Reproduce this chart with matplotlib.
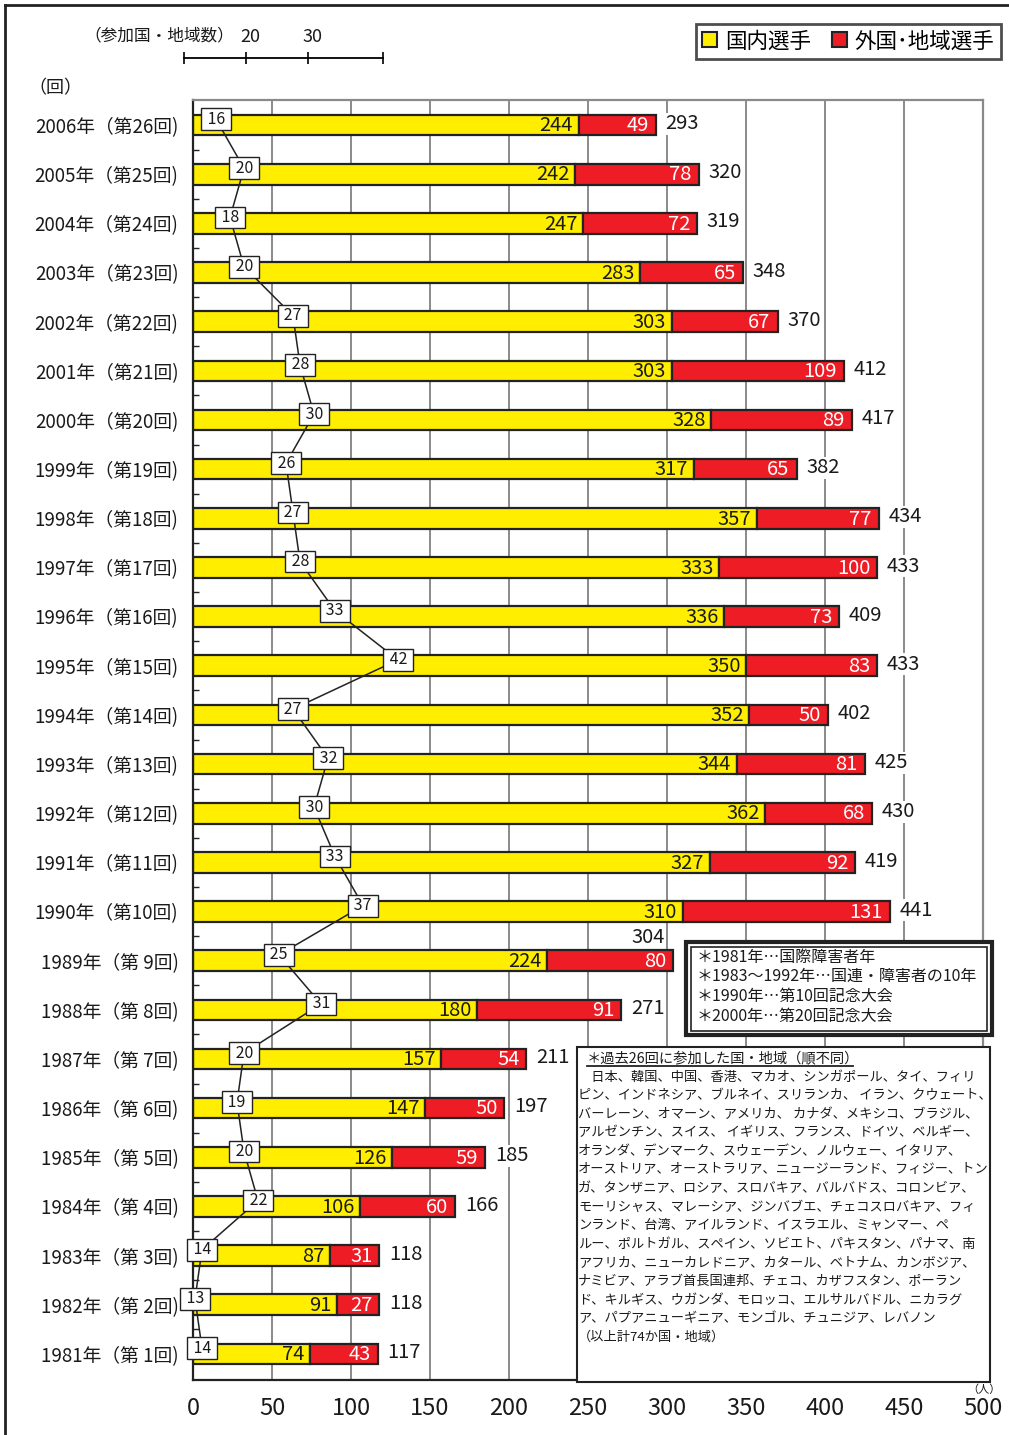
import numpy as np
import matplotlib
matplotlib.use('Agg')
import matplotlib.pyplot as plt
import matplotlib.transforms as mtransforms
from matplotlib.patches import Patch, Rectangle
from matplotlib.lines import Line2D

NUM_FONT = ['Liberation Sans Narrow', 'Noto Sans CJK JP', 'DejaVu Sans']
CJK_FONT = ['Noto Sans CJK JP', 'DejaVu Sans']
plt.rcParams['font.family'] = NUM_FONT

# ---- data (1981 -> 2006) ----
years = list(range(1981, 2007))
editions = list(range(1, 27))
domestic = [74, 91, 87, 106, 126, 147, 157, 180, 224, 310, 327, 362, 344,
            352, 350, 336, 333, 357, 317, 328, 303, 303, 283, 247, 242, 244]
foreign = [43, 27, 31, 60, 59, 50, 54, 91, 80, 131, 92, 68, 81,
           50, 83, 73, 100, 77, 65, 89, 109, 67, 65, 72, 78, 49]
countries = [14, 13, 14, 22, 20, 19, 20, 31, 25, 37, 33, 30, 32,
             27, 42, 33, 28, 27, 26, 30, 28, 27, 20, 18, 20, 16]

notes = ['＊1981年…国際障害者年',
         '＊1983～1992年…国連・障害者の10年',
         '＊1990年…第10回記念大会',
         '＊2000年…第20回記念大会']
country_title = '＊過去26回に参加した国・地域（順不同）'
country_lines = [
    '　日本、韓国、中国、香港、マカオ、シンガポール、タイ、フィリ',
    'ピン、インドネシア、ブルネイ、スリランカ、 イラン、クウェート、',
    'バーレーン、オマーン、アメリカ、 カナダ、メキシコ、ブラジル、',
    'アルゼンチン、スイス、 イギリス、フランス、ドイツ、ベルギー、',
    'オランダ、デンマーク、スウェーデン、ノルウェー、イタリア、',
    'オーストリア、オーストラリア、ニュージーランド、フィジー、トン',
    'ガ、タンザニア、ロシア、スロバキア、バルバドス、コロンビア、',
    'モーリシャス、マレーシア、ジンバブエ、チェコスロバキア、フィ',
    'ンランド、台湾、アイルランド、イスラエル、ミャンマー、ペ',
    'ルー、ポルトガル、スペイン、ソビエト、パキスタン、パナマ、南',
    'アフリカ、ニューカレドニア、カタール、ベトナム、カンボジア、',
    'ナミビア、アラブ首長国連邦、チェコ、カザフスタン、ポーラン',
    'ド、キルギス、ウガンダ、モロッコ、エルサルバドル、ニカラグ',
    'ア、パプアニューギニア、モンゴル、チュニジア、レバノン',
    '（以上計74か国・地域）',
]

YELLOW = '#FFEE00'
RED = '#EE1C25'
EDGE = '#222222'
INK = '#1a1a1a'
W, H = 1009, 1435


def fx(px):
    return px / W


def fy(py):
    return 1 - py / H


fig = plt.figure(figsize=(W / 100, H / 100), dpi=100)
ax = fig.add_axes([fx(193), fy(1380), fx(983) - fx(193), (1380 - 100) / H])

y = np.arange(len(years))
totals = [d + f for d, f in zip(domestic, foreign)]

ax.barh(y, domestic, height=0.42, color=YELLOW, edgecolor=EDGE, lw=1.6, zorder=2)
ax.barh(y, foreign, left=domestic, height=0.42, color=RED, edgecolor=EDGE,
        lw=1.6, zorder=2)

for i in y:
    ax.annotate(str(domestic[i]), (domestic[i], i), xytext=(-4, -0.5),
                textcoords='offset points', ha='right', va='center',
                fontsize=14.5, color=INK, zorder=3)
    ax.annotate(str(foreign[i]), (totals[i], i), xytext=(-5, -0.5),
                textcoords='offset points', ha='right', va='center',
                fontsize=14.5, color='white', zorder=3)
    if years[i] == 1989:
        ax.annotate(str(totals[i]), (totals[i], i), xytext=(-18, 17),
                    textcoords='offset points', ha='center', va='center',
                    fontsize=14.5, color=INK, zorder=3,
                    bbox=dict(fc='white', ec='none', pad=0.5))
    else:
        ax.annotate(str(totals[i]), (totals[i], i), xytext=(7, 1),
                    textcoords='offset points', ha='left', va='center',
                    fontsize=14.5, color=INK, zorder=3,
                    bbox=dict(fc='white', ec='none', pad=0.5))

ax.set_xlim(0, 500)
ax.set_ylim(-0.53, 25.51)
ax.set_xticks(np.arange(0, 501, 50))
ax.tick_params(axis='x', length=0, pad=12, labelsize=17, labelcolor=INK)
ax.set_yticks(y)
ax.set_yticklabels([f'{yr}年（第{e:2d}回)' for yr, e in zip(years, editions)])
ax.tick_params(axis='y', which='major', length=0, pad=10.5, labelsize=13.5,
               labelcolor=INK)
ax.set_yticks(y[:-1] + 0.5, minor=True)
ax.tick_params(axis='y', which='minor', direction='in', length=4, width=1,
               color='#222222')
ax.set_axisbelow(True)
ax.xaxis.grid(True, color='#8a8a8a', lw=1.4)
for s in ['left', 'bottom']:
    ax.spines[s].set_color('#222222')
    ax.spines[s].set_linewidth(1.6)
for s in ['top', 'right']:
    ax.spines[s].set_color('#8a8a8a')
    ax.spines[s].set_linewidth(1.6)

# participating countries line (own scale)
ax2 = ax.twiny()
ax2.set_xlim((193 - 104) / 7, (983 - 104) / 7)
ax2.set_ylim(ax.get_ylim())
ax2.axis('off')
ax2.plot(countries, y + 0.12, color='#222222', lw=1.1, zorder=4, clip_on=False)
for i in y:
    ax2.text(countries[i], i + 0.12, f' {countries[i]} ', ha='center',
             va='center', fontsize=11.5, color=INK, zorder=5, clip_on=False,
             bbox=dict(boxstyle='square,pad=0.15', fc='white', ec='#222222',
                       lw=1))

# small scale for number of countries
axc = fig.add_axes([fx(184), fy(58), fx(383) - fx(184), 12 / H])
axc.set_xlim(10, 42)
axc.set_ylim(0, 1)
for s in ['left', 'right', 'top']:
    axc.spines[s].set_visible(False)
axc.spines['bottom'].set_linewidth(1.3)
axc.set_yticks([])
axc.set_xticks([10, 20, 30, 42])
axc.set_xticklabels(['', '20', '30', ''])
axc.tick_params(axis='x', direction='inout', length=8, width=1.2,
                bottom=True, top=False, labelbottom=False, labeltop=True,
                pad=-4, labelsize=13, labelcolor=INK)
shift = mtransforms.ScaledTranslation(4 / 100, 0, fig.dpi_scale_trans)
for lab in axc.get_xticklabels(which='major'):
    lab.set_transform(lab.get_transform() + shift)
axc.patch.set_alpha(0)
fig.text(fx(84), fy(36), '（参加国・地域数）', fontsize=12, ha='left',
         va='center', color=INK, family=CJK_FONT)
fig.text(fx(28), fy(88), '（回）', fontsize=13, ha='left', va='center',
         color=INK, family=CJK_FONT)
fig.text(fx(1001), fy(1390), '（人）', fontsize=8, ha='right', va='center',
         color=INK, family=CJK_FONT, zorder=8)

# legend
handles = [Patch(fc=YELLOW, ec=EDGE, lw=1.5, label='国内選手'),
           Patch(fc=RED, ec=EDGE, lw=1.5, label='外国･地域選手')]
leg = fig.legend(handles=handles, loc='upper right',
                 bbox_to_anchor=(fx(1001), fy(24)), ncol=2,
                 prop=dict(family=CJK_FONT, size=15.5),
                 frameon=True, fancybox=False, edgecolor='#222222',
                 handlelength=0.7, handleheight=0.7, handletextpad=0.35,
                 columnspacing=1.0, borderpad=0.3, borderaxespad=0)
leg.get_frame().set_linewidth(2)

# notes box (double border)
fig.add_artist(Rectangle((fx(686), fy(1035)), fx(992) - fx(686),
                         (1035 - 942) / H, transform=fig.transFigure,
                         fc='white', ec='#222222', lw=3, zorder=6))
fig.add_artist(Rectangle((fx(691), fy(1031)), fx(987) - fx(691),
                         (1031 - 947) / H, transform=fig.transFigure,
                         fc='none', ec='#222222', lw=1.2, zorder=6))
for k, line in enumerate(notes):
    fig.text(fx(697), fy(957 + 19.8 * k), line, fontsize=11.5, ha='left',
             va='center', color=INK, zorder=7)

# country list box
fig.add_artist(Rectangle((fx(577), fy(1382)), fx(990) - fx(577),
                         (1382 - 1047) / H, transform=fig.transFigure,
                         fc='white', ec='#222222', lw=1.5, zorder=6))
fig.text(fx(587), fy(1058), country_title, fontsize=10.3, ha='left',
         va='center', color=INK, zorder=7, family=CJK_FONT)
fig.add_artist(Line2D([fx(587), fx(853)], [fy(1066), fy(1066)],
                      transform=fig.transFigure, color='#222222', lw=1.3,
                      zorder=7))
for k, line in enumerate(country_lines):
    fig.text(fx(578), fy(1077 + 18.57 * k), line, fontsize=9.5, ha='left',
             va='center', color=INK, zorder=7, family=CJK_FONT)

# outer frame (top and left)
fig.add_artist(Line2D([fx(5), 1], [fy(5), fy(5)], transform=fig.transFigure,
                      color='#222222', lw=2))
fig.add_artist(Line2D([fx(5), fx(5)], [fy(5), 0], transform=fig.transFigure,
                      color='#222222', lw=2))

fig.savefig('out.png', dpi=100)
